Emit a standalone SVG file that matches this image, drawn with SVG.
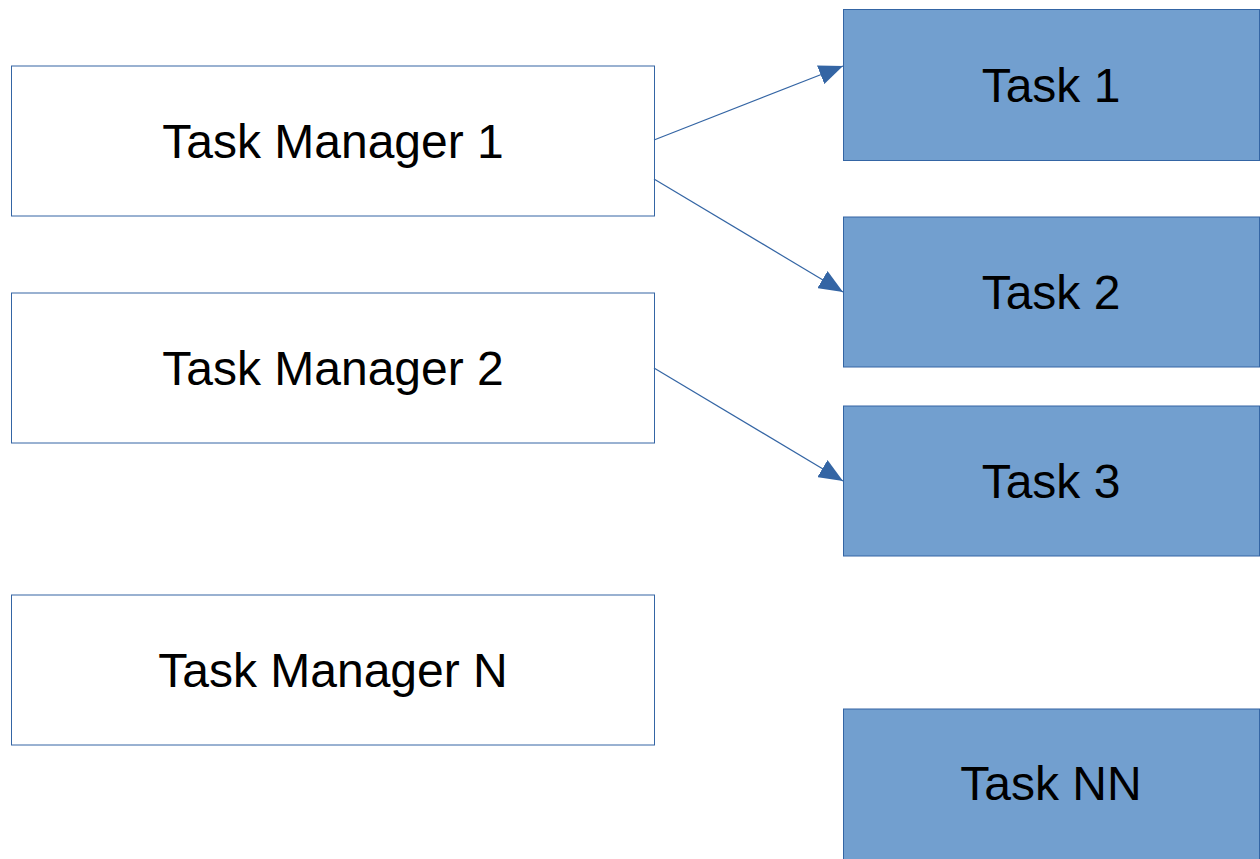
<svg xmlns="http://www.w3.org/2000/svg" width="1260" height="859" viewBox="0 0 1260 859">
<style>
.tm rect{fill:#ffffff;stroke:#3465a4;stroke-width:1}
.tk rect{fill:#729fcf;stroke:#3465a4;stroke-width:1}
text{font-family:"Liberation Sans",Arial,sans-serif;font-size:48px;fill:#000;text-anchor:middle}
.conn line{stroke:#3465a4;stroke-width:1.2;fill:none}
</style>
<defs>
<marker id="ah" viewBox="0 0 24 20" refX="24" refY="10" markerWidth="24" markerHeight="20" markerUnits="userSpaceOnUse" orient="auto">
<path d="M0,0 L24,10 L0,20 Z" fill="#3465a4"/>
</marker>
</defs>
<rect width="1260" height="859" fill="#ffffff"/>
<g id="tm1" class="tm"><rect x="11.5" y="66" width="643" height="150"/><text x="333" y="158">Task Manager 1</text></g>
<g id="tm2" class="tm"><rect x="11.5" y="293" width="643" height="150"/><text x="333" y="385">Task Manager 2</text></g>
<g id="tmn" class="tm"><rect x="11.5" y="595" width="643" height="150"/><text x="333" y="687">Task Manager N</text></g>
<g id="t1" class="tk"><rect x="843.5" y="9.5" width="416" height="151"/><text x="1051" y="102">Task 1</text></g>
<g id="t2" class="tk"><rect x="843.5" y="217" width="416" height="150"/><text x="1051" y="309">Task 2</text></g>
<g id="t3" class="tk"><rect x="843.5" y="406" width="416" height="150"/><text x="1051" y="498">Task 3</text></g>
<g id="tnn" class="tk"><rect x="843.5" y="709" width="416" height="160"/><text x="1051" y="800">Task NN</text></g>
<g id="connectors" class="conn">
<line x1="654" y1="140" x2="843" y2="66" marker-end="url(#ah)"/>
<line x1="654" y1="179" x2="843" y2="292" marker-end="url(#ah)"/>
<line x1="654" y1="368" x2="843" y2="481" marker-end="url(#ah)"/>
</g>
</svg>
